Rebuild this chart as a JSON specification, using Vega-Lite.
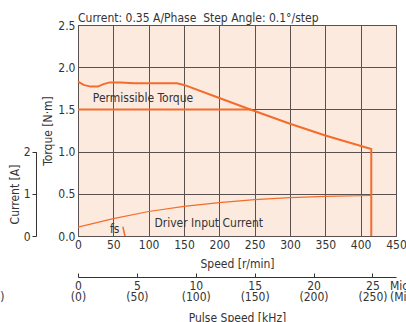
{
  "$schema": "https://vega.github.io/schema/vega-lite/v6.json",
  "width": 318,
  "height": 211,
  "autosize": {"type": "none"},
  "padding": {"left": 78, "top": 25, "right": 10, "bottom": 86},
  "background": "white",
  "title": {"text": "Current: 0.35 A/Phase\u00a0\u00a0Step Angle: 0.1°/step", "anchor": "start", "frame": "group", "fontSize": 12, "fontWeight": "normal", "font": "DejaVu Sans Condensed, Roboto, sans-serif", "color": "#333", "offset": -6},
  "config": {
    "font": "DejaVu Sans Condensed, Roboto, sans-serif",
    "view": {"fill": "#fdeadf", "stroke": "#5a5050", "strokeWidth": 1},
    "axis": {"labelFont": "DejaVu Sans Condensed, Roboto, sans-serif", "titleFont": "DejaVu Sans Condensed, Roboto, sans-serif", "labelFontSize": 12, "titleFontSize": 12, "titleFontWeight": "normal", "labelColor": "#333", "titleColor": "#333", "labelOverlap": false, "labelBound": false, "labelSeparation": 0},
    "axisX": {"labelOverlap": false}
  },
  "datasets": {
    "torque": [
      {"i": 0, "speed": 0, "torque": 1.83},
      {"i": 1, "speed": 8, "torque": 1.79},
      {"i": 2, "speed": 18, "torque": 1.77},
      {"i": 3, "speed": 28, "torque": 1.77},
      {"i": 4, "speed": 36, "torque": 1.80},
      {"i": 5, "speed": 45, "torque": 1.82},
      {"i": 6, "speed": 60, "torque": 1.82},
      {"i": 7, "speed": 80, "torque": 1.81},
      {"i": 8, "speed": 110, "torque": 1.81},
      {"i": 9, "speed": 140, "torque": 1.81},
      {"i": 10, "speed": 150, "torque": 1.79},
      {"i": 11, "speed": 200, "torque": 1.635},
      {"i": 12, "speed": 240, "torque": 1.51},
      {"i": 13, "speed": 300, "torque": 1.33},
      {"i": 14, "speed": 350, "torque": 1.19},
      {"i": 15, "speed": 415, "torque": 1.03},
      {"i": 16, "speed": 415, "torque": 0}
    ],
    "current": [
      {"speed": 0, "current": 0.21},
      {"speed": 50, "current": 0.41},
      {"speed": 100, "current": 0.58},
      {"speed": 150, "current": 0.70},
      {"speed": 200, "current": 0.79},
      {"speed": 250, "current": 0.86},
      {"speed": 300, "current": 0.91},
      {"speed": 350, "current": 0.94},
      {"speed": 415, "current": 0.96}
    ],
    "fs": [
      {"i": 0, "speed": 63.5, "torque": 0.11},
      {"i": 1, "speed": 66.5, "torque": 0}
    ],
    "permissible": [
      {"speed": 0, "end": 245, "torque": 1.5}
    ],
    "labels": [
      {"speed": 21, "torque": 1.635, "text": "Permissible Torque", "align": "left"},
      {"speed": 185, "torque": 0.154, "text": "Driver Input Current", "align": "center"},
      {"speed": 52, "torque": 0.083, "text": "fs", "align": "center"},
      {"speed": 441.5, "torque": -0.59, "text": "Microstep", "align": "left"},
      {"speed": 441.5, "torque": -0.72, "text": "(Microstep)", "align": "left"},
      {"speed": -104, "torque": -0.72, "text": "(Full Step)", "align": "right"}
    ],
    "pulse": [
      {"khz": 0},
      {"khz": 27}
    ]
  },
  "layer": [
    {
      "encoding": {
        "x": {"field": "speed", "type": "quantitative", "scale": {"domain": [0, 450], "nice": false},
          "axis": {"values": [0, 50, 100, 150, 200, 250, 300, 350, 400, 450], "ticks": false, "domain": false, "labelPadding": 3, "labelOverlap": false, "labelBound": false, "title": "Speed [r/min]", "titlePadding": 8, "grid": true, "gridColor": "#5a5050", "gridOpacity": 1, "gridWidth": 1, "labelFlush": false}},
        "y": {"field": "torque", "type": "quantitative", "scale": {"domain": [0, 2.5], "nice": false},
          "axis": {"values": [0, 0.5, 1, 1.5, 2, 2.5], "format": ".1f", "ticks": false, "domain": false, "labelPadding": 3, "labelOverlap": false, "title": "Torque [N·m]", "titlePadding": 3, "grid": true, "gridColor": "#5a5050", "gridOpacity": 1, "gridWidth": 1, "labelFlush": false}}
      },
      "layer": [
        {
          "data": {"name": "torque"},
          "mark": {"type": "line", "color": "#f36c2a", "strokeWidth": 2},
          "encoding": {
            "order": {"field": "i", "type": "quantitative"}
          }
        },
        {
          "data": {"name": "permissible"},
          "mark": {"type": "rule", "color": "#f36c2a", "strokeWidth": 2},
          "encoding": {
            "x2": {"field": "end"}
          }
        },
        {
          "data": {"name": "fs"},
          "mark": {"type": "line", "color": "#f36c2a", "strokeWidth": 1.5},
          "encoding": {
            "order": {"field": "i", "type": "quantitative"}
          }
        },
        {
          "data": {"name": "labels"},
          "transform": [{"filter": "datum.align === 'left'"}],
          "mark": {"type": "text", "fontSize": 12, "color": "#333", "baseline": "middle", "align": "left"},
          "encoding": {
            "text": {"field": "text"}
          }
        },
        {
          "data": {"name": "labels"},
          "transform": [{"filter": "datum.align === 'center'"}],
          "mark": {"type": "text", "fontSize": 12, "color": "#333", "baseline": "middle", "align": "center"},
          "encoding": {
            "text": {"field": "text"}
          }
        },
        {
          "data": {"name": "labels"},
          "transform": [{"filter": "datum.align === 'right'"}],
          "mark": {"type": "text", "fontSize": 12, "color": "#333", "baseline": "middle", "align": "right"},
          "encoding": {
            "text": {"field": "text"}
          }
        }
      ]
    },
    {
      "data": {"name": "current"},
      "mark": {"type": "line", "color": "#f36c2a", "strokeWidth": 1.2},
      "encoding": {
        "x": {"field": "speed", "type": "quantitative", "scale": {"domain": [0, 450], "nice": false}, "axis": null},
        "y": {"field": "current", "type": "quantitative", "scale": {"domain": [0, 5], "nice": false},
          "axis": {"orient": "left", "offset": 42, "values": [0, 1, 2], "grid": false, "ticks": true, "tickSize": 4, "tickColor": "#333", "domainColor": "#333", "domainDash": [84.4, 400], "labelPadding": 2, "title": "Current [A]", "titleY": 169, "titlePadding": 2, "labelFlush": false}}
      }
    },
    {
      "data": {"name": "pulse"},
      "mark": {"type": "point", "opacity": 0},
      "encoding": {
        "x": {"field": "khz", "type": "quantitative", "scale": {"domain": [0, 27], "nice": false},
          "axis": {"orient": "bottom", "offset": 41, "values": [0, 5, 10, 15, 20, 25], "grid": false, "ticks": true, "tickSize": -4, "tickColor": "#333", "domainColor": "#333", "labelPadding": 7, "labelOverlap": false, "labelExpr": "[datum.label, '(' + datum.value * 10 + ')']", "labelLineHeight": 11, "title": "Pulse Speed [kHz]", "titlePadding": 10, "labelFlush": false}}
      }
    }
  ],
  "resolve": {"scale": {"x": "independent", "y": "independent"}, "axis": {"x": "independent", "y": "independent"}}
}
